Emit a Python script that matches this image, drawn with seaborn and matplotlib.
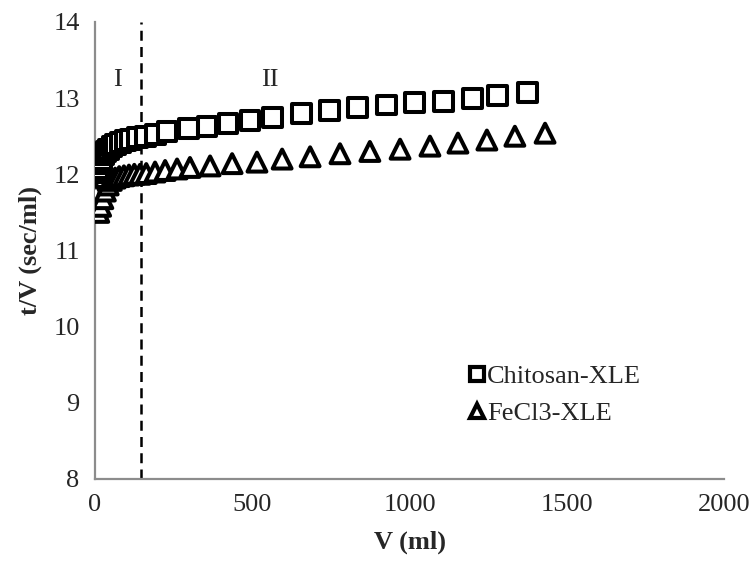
import matplotlib
matplotlib.use("Agg")
import matplotlib.pyplot as plt
import seaborn as sns
import pandas as pd

# Filtration data: cumulative filtrate volume V (ml) and t/V (sec/ml)
chitosan_v = [2, 5, 9, 14, 20, 27, 35, 44, 54, 66, 80, 96, 114, 134, 160,
              191, 229, 296, 356, 423, 493, 563, 658, 747, 836, 928, 1017,
              1107, 1199, 1281, 1374]
chitosan_tv = [11.96, 12.02, 12.08, 12.14, 12.2, 12.26, 12.3, 12.33, 12.36,
               12.39, 12.42, 12.44, 12.46, 12.48, 12.5,
               12.52, 12.56, 12.6, 12.63, 12.67, 12.71, 12.75, 12.8, 12.84,
               12.88, 12.91, 12.94, 12.96, 13.0, 13.03, 13.07]

fecl3_v = [3, 7, 12, 18, 25, 33, 42, 52, 64, 77, 92, 108, 125, 143, 163,
           191, 223, 261, 302, 366, 436, 515, 595, 684, 779, 874, 970, 1065,
           1154, 1246, 1335, 1431]
fecl3_tv = [11.75, 11.55, 11.5, 11.58, 11.68, 11.78, 11.86, 11.92, 11.95,
            11.97, 11.98, 11.99, 12.0, 12.0, 12.01,
            12.03, 12.05, 12.07, 12.09, 12.11, 12.14, 12.16, 12.2, 12.23,
            12.27, 12.3, 12.33, 12.37, 12.41, 12.45, 12.5, 12.54]

series_names = ["Chitosan-XLE", "FeCl3-XLE"]
region_split_v = 146
region_labels = ["I", "II"]
region_label_x = [73, 556]
region_label_y = 13.24

df = pd.concat([
    pd.DataFrame({"V": chitosan_v, "tV": chitosan_tv, "series": series_names[0]}),
    pd.DataFrame({"V": fecl3_v, "tV": fecl3_tv, "series": series_names[1]}),
], ignore_index=True)

sns.set_style("white")
plt.rcParams["font.family"] = ["Liberation Serif", "DejaVu Serif"]

FS = 19

fig = plt.figure(figsize=(7.55, 5.62), dpi=100)
ax = fig.add_axes([0.1258, 0.1477, 0.8332, 0.8132])

sns.scatterplot(data=df, x="V", y="tV", hue="series", style="series",
                markers={series_names[0]: "s", series_names[1]: "^"},
                palette={series_names[0]: "white", series_names[1]: "white"},
                edgecolor="black", linewidth=2.9, s=185, ax=ax, zorder=3,
                legend=True)

ax.axvline(region_split_v, color="black", linewidth=1.8, linestyle=(0, (4, 2.5)),
           zorder=2)
for lab, lx in zip(region_labels, region_label_x):
    ax.text(lx, region_label_y, lab, ha="center", va="center", fontsize=FS)

ax.set_xlim(0, 2000)
ax.set_ylim(8, 14)
ax.set_xticks([0, 500, 1000, 1500, 2000])
ax.set_yticks([8, 9, 10, 11, 12, 13, 14])

for side in ["top", "right"]:
    ax.spines[side].set_visible(False)
for side in ["left", "bottom"]:
    ax.spines[side].set_color("#8c8c8c")
    ax.spines[side].set_linewidth(1.6)
ax.tick_params(axis="both", which="major", direction="out", length=5,
               width=1.6, color="#8c8c8c", labelsize=FS, pad=6)

ax.set_xlabel("V (ml)", fontsize=FS, fontweight="bold", labelpad=10)
ax.set_ylabel("t/V (sec/ml)", fontsize=FS, fontweight="bold", labelpad=8)

handles, labels = ax.get_legend_handles_labels()
for h in handles:
    h.set_markerfacecolor("white")
    h.set_markeredgecolor("black")
    h.set_markeredgewidth(3.0)
    h.set_markersize(10)
ax.legend(handles, labels, loc="upper left", bbox_to_anchor=(0.596, 0.25),
          frameon=False, fontsize=FS, handlelength=0.55, handletextpad=0.1,
          labelspacing=0.5, borderpad=0, borderaxespad=0)

fig.savefig("out.png", dpi=100)
